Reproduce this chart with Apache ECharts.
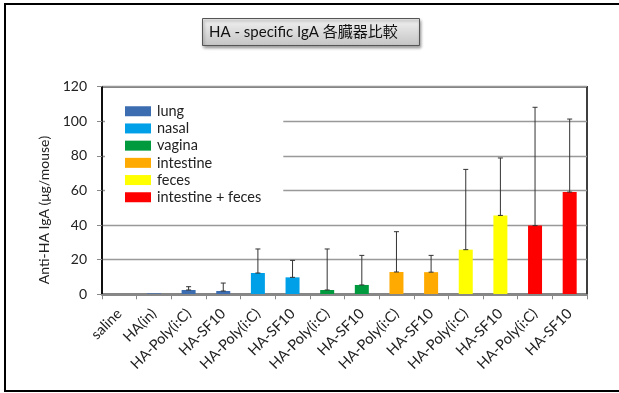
<!DOCTYPE html>
<html>
<head>
<meta charset="utf-8">
<script src="https://cdn.jsdelivr.net/npm/echarts@6/dist/echarts.min.js"></script>
<style>html,body{margin:0;padding:0;background:#fff}#c{width:619px;height:393px}</style>
</head>
<body>
<div id="c"></div>
<script>
var categories = ['saline','HA(in)','HA-Poly(i:C)','HA-SF10','HA-Poly(i:C)','HA-SF10','HA-Poly(i:C)','HA-SF10','HA-Poly(i:C)','HA-SF10','HA-Poly(i:C)','HA-SF10','HA-Poly(i:C)','HA-SF10'];
var groupNames = ['lung','nasal','vagina','intestine','feces','intestine + feces'];
var groupOfCategory = [0,0,0,0,1,1,2,2,3,3,4,4,5,5];
var values = [0, 0.5, 2.5, 1.9, 12.3, 9.8, 2.5, 5.4, 12.9, 12.8, 25.8, 45.6, 39.7, 59.1];
var errors = [0, 0, 1.9, 4.6, 13.9, 9.8, 23.7, 17.1, 23.3, 9.7, 46.4, 33.2, 68.4, 42.2];
var groupColors = ['#3C6DB0','#00A0E9','#009A3E','#FFAA00','#FFFF00','#FF0000'];
var yTicks = [0, 20, 40, 60, 80, 100, 120];
var titleText = 'HA - specific IgA 各臓器比較';
var yAxisTitle = 'Anti-HA IgA (μg/mouse)';

var FONT = 'Lato, "Noto Sans CJK JP", sans-serif';
var chart = echarts.init(document.getElementById('c'));

var barSeries = groupNames.map(function (name, g) {
  return {
    name: name,
    type: 'bar',
    barWidth: 14,
    barGap: '-100%',
    itemStyle: { color: groupColors[g] },
    data: values.map(function (v, i) { return groupOfCategory[i] === g ? v : '-'; }),
    z: 2
  };
});

var errData = values.map(function (v, i) { return [i, v, v + errors[i]]; });

var errSeries = {
  type: 'custom',
  name: 'err',
  z: 5,
  silent: true,
  renderItem: function (params, api) {
    var x = api.value(0);
    if (api.value(2) - api.value(1) <= 0) return;
    var lo = api.coord([x, api.value(1)]);
    var hi = api.coord([x, api.value(2)]);
    var w = 2.5;
    var st = { stroke: '#333', lineWidth: 1 };
    return {
      type: 'group',
      children: [
        { type: 'line', shape: { x1: lo[0], y1: lo[1], x2: hi[0], y2: hi[1] }, style: st },
        { type: 'line', shape: { x1: hi[0] - w, y1: hi[1], x2: hi[0] + w, y2: hi[1] }, style: st },
        { type: 'line', shape: { x1: lo[0] - w, y1: lo[1], x2: lo[0] + w, y2: lo[1] }, style: st }
      ]
    };
  },
  encode: { x: 0, y: [1, 2] },
  data: errData
};

chart.setOption({
  animation: false,
  backgroundColor: '#fff',
  textStyle: { fontFamily: FONT },
  title: {
    text: titleText,
    left: 202,
    top: 18,
    padding: [7, 22, 6, 7],
    borderColor: '#555',
    borderWidth: 1,
    backgroundColor: new echarts.graphic.LinearGradient(0, 0, 0, 1, [
      { offset: 0, color: '#f2f2f2' }, { offset: 1, color: '#c4c4c4' }
    ]),
    shadowColor: 'rgba(0,0,0,0.4)',
    shadowBlur: 3,
    shadowOffsetX: 1,
    shadowOffsetY: 2,
    textStyle: { fontFamily: FONT, fontSize: 15, fontWeight: 'normal', color: '#111' }
  },
  graphic: [{
    type: 'rect',
    shape: { x: 5, y: 4, width: 620, height: 387 },
    style: { fill: 'none', stroke: '#000', lineWidth: 2 },
    silent: true
  }, {
    type: 'text',
    x: 44,
    y: 210,
    rotation: Math.PI / 2,
    style: {
      text: yAxisTitle,
      fontFamily: FONT,
      fontSize: 14,
      fill: '#222',
      align: 'center',
      verticalAlign: 'middle'
    },
    silent: true
  }],
  legend: {
    orient: 'vertical',
    left: 105,
    top: 92,
    padding: [12, 22, 10, 20],
    backgroundColor: '#fff',
    itemWidth: 26,
    itemHeight: 10,
    itemGap: 2.7,
    icon: 'rect',
    data: groupNames,
    textStyle: { fontFamily: FONT, fontSize: 14.5, color: '#222', lineHeight: 14, padding: [0, 0, 0, 1] },
    z: 4
  },
  grid: {
    left: 102, right: 32, top: 86.7, bottom: 98.7,
    show: true, borderColor: '#000', borderWidth: 1.5, backgroundColor: 'transparent'
  },
  xAxis: {
    type: 'category',
    data: categories,
    axisLine: { lineStyle: { color: '#888', width: 2 } },
    axisTick: { show: true, length: 5, lineStyle: { color: '#888' }, alignWithLabel: false },
    axisLabel: { rotate: 45, fontFamily: FONT, fontSize: 14.5, color: '#222', margin: 17, interval: 0 },
    z: 3
  },
  yAxis: {
    type: 'value',
    min: yTicks[0], max: yTicks[yTicks.length - 1], interval: 20,
    axisLine: { show: true, lineStyle: { color: '#000', width: 1.5 } },
    axisTick: { show: true, length: 5, lineStyle: { color: '#888' } },
    axisLabel: { fontFamily: FONT, fontSize: 14, color: '#222', margin: 15 },
    splitLine: { lineStyle: { color: '#999', width: 1.3 } }
  },
  series: barSeries.concat([errSeries])
});
</script>
</body>
</html>
